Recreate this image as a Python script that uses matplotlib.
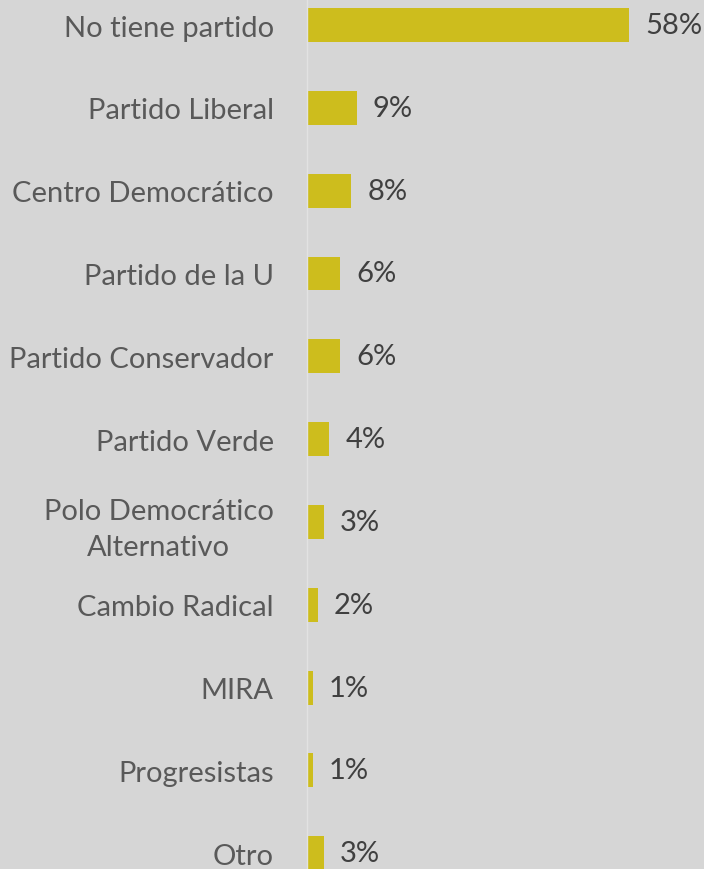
import matplotlib
matplotlib.use("Agg")
import matplotlib.pyplot as plt

categories = ["No tiene partido", "Partido Liberal", "Centro Democrático", "Partido de la U",
              "Partido Conservador", "Partido Verde", "Polo Democrático\nAlternativo",
              "Cambio Radical", "MIRA", "Progresistas", "Otro"]
values = [58, 9, 8, 6, 6, 4, 3, 2, 1, 1, 3]
value_labels = ["58%", "9%", "8%", "6%", "6%", "4%", "3%", "2%", "1%", "1%", "3%"]

BG = "#d6d6d6"
BAR = "#cdbd1d"
plt.rcParams['font.family'] = ['Lato', 'DejaVu Sans']

fig = plt.figure(figsize=(7.04, 8.70), dpi=100, facecolor=BG)
W, H = 704, 870
ax = fig.add_axes([307 / W, 0, (W - 307) / W, 1], facecolor=BG)

ypos = list(range(len(categories)))
ax.barh(ypos, values, height=0.41, color=BAR)
ax.set_xlim(0, (W - 307) / 5.55)
ax.set_ylim(10.19, -0.314)

for y, v, lab in zip(ypos, values, value_labels):
    ax.annotate(lab, (v, y), xytext=(11.5, 0), textcoords="offset points",
                va="center", ha="left", fontsize=21, color="#404040")

ax.set_yticks(ypos)
ax.set_yticklabels(categories, fontsize=21, color="#595959", ha="right", linespacing=1.45)
for t in ax.get_yticklabels():
    t.set_multialignment("center")
ax.tick_params(axis="y", length=0, pad=24)
ax.set_xticks([])
for s in ["top", "right", "bottom"]:
    ax.spines[s].set_visible(False)
ax.spines["left"].set_color("#e2e2e2")
ax.spines["left"].set_linewidth(1.0)

fig.savefig("out.png", dpi=100, facecolor=BG)
